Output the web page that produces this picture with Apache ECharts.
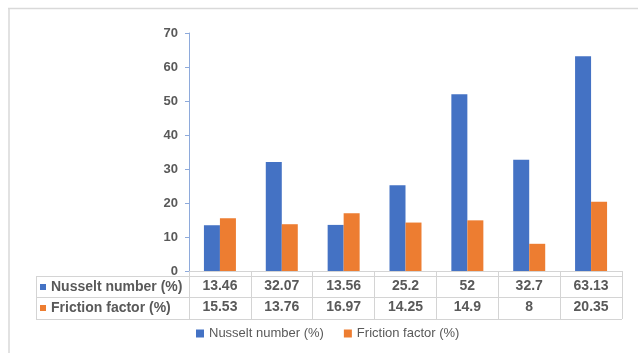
<!DOCTYPE html>
<html>
<head>
<meta charset="utf-8">
<script src="https://cdn.jsdelivr.net/npm/echarts@6/dist/echarts.min.js"></script>
<style>
html,body{margin:0;padding:0;background:#fff;}
#chart{width:638px;height:353px;}
</style>
</head>
<body>
<div id="chart"></div>
<script>
const categories = ['1', '2', '3', '4', '5', '6', '7'];
const nusselt = [13.46, 32.07, 13.56, 25.2, 52, 32.7, 63.13];
const friction = [15.53, 13.76, 16.97, 14.25, 14.9, 8, 20.35];
const seriesNames = ['Nusselt number (%)', 'Friction factor (%)'];
const colors = ['#4472c4', '#ed7d31'];
const yMin = 0, yMax = 70, yInterval = 10;

const FONT = '"Liberation Sans", Arial, sans-serif';
const TXT = '#595959';
const LINE = '#d4d4d4';

const chart = echarts.init(document.getElementById('chart'), null, {renderer: 'canvas'});

const graphics = [
  // outer frame
  {type: 'line', shape: {x1: 8, y1: 8.5, x2: 638, y2: 8.5}, style: {stroke: '#d9d9d9', lineWidth: 1.5}, silent: true},
  {type: 'line', shape: {x1: 9, y1: 8, x2: 9, y2: 353}, style: {stroke: '#d9d9d9', lineWidth: 1.5}, silent: true},
  // table horizontal lines
  {type: 'line', shape: {x1: 36, y1: 276.5, x2: 622, y2: 276.5}, style: {stroke: LINE, lineWidth: 1}, silent: true},
  {type: 'line', shape: {x1: 36, y1: 297.5, x2: 622, y2: 297.5}, style: {stroke: LINE, lineWidth: 1}, silent: true},
  {type: 'line', shape: {x1: 36, y1: 319.5, x2: 622, y2: 319.5}, style: {stroke: LINE, lineWidth: 1}, silent: true},
  {type: 'line', shape: {x1: 36.5, y1: 276, x2: 36.5, y2: 320}, style: {stroke: LINE, lineWidth: 1}, silent: true},
  // row headers
  {type: 'rect', shape: {x: 40, y: 284, width: 6, height: 6}, style: {fill: colors[0]}, silent: true},
  {type: 'text', x: 51, y: 287, style: {text: seriesNames[0], font: 'bold 14px ' + FONT, fill: TXT, textVerticalAlign: 'middle', verticalAlign: 'middle'}, silent: true},
  {type: 'rect', shape: {x: 40, y: 305, width: 6, height: 6}, style: {fill: colors[1]}, silent: true},
  {type: 'text', x: 51, y: 308, style: {text: seriesNames[1], font: 'bold 14px ' + FONT, fill: TXT, textVerticalAlign: 'middle', verticalAlign: 'middle'}, silent: true}
];

chart.setOption({
  animation: false,
  backgroundColor: '#fff',
  textStyle: {fontFamily: FONT},
  grid: {left: 189, right: 16, top: 33, bottom: 82, containLabel: false},
  legend: {
    data: seriesNames,
    left: 196,
    top: 327,
    padding: 0,
    icon: 'rect',
    itemWidth: 8,
    itemHeight: 8,
    itemGap: 20,
    textStyle: {fontSize: 13, color: TXT, fontFamily: FONT}
  },
  xAxis: {
    type: 'category',
    data: categories,
    axisLine: {show: true, lineStyle: {color: LINE, width: 1}},
    axisTick: {show: true, length: 48, lineStyle: {color: LINE, width: 1}},
    axisLabel: {
      margin: 5,
      interval: 0,
      formatter: function (value, index) {
        return '{v|' + nusselt[index] + '}\n{v|' + friction[index] + '}';
      },
      rich: {
        v: {fontSize: 14, fontWeight: 'bold', color: TXT, lineHeight: 21, fontFamily: FONT}
      }
    },
    splitLine: {show: false}
  },
  yAxis: {
    type: 'value',
    min: yMin,
    max: yMax,
    interval: yInterval,
    axisLine: {show: true, lineStyle: {color: '#8eaadb', width: 1}},
    axisTick: {show: true, length: 4, lineStyle: {color: '#8eaadb'}},
    axisLabel: {margin: 11, fontSize: 13, fontWeight: 'bold', color: TXT, fontFamily: FONT},
    splitLine: {show: false}
  },
  series: [
    {name: seriesNames[0], type: 'bar', data: nusselt, barWidth: 16, barGap: '0%', itemStyle: {color: colors[0]}},
    {name: seriesNames[1], type: 'bar', data: friction, barWidth: 16, barGap: '0%', itemStyle: {color: colors[1]}}
  ],
  graphic: graphics
});
</script>
</body>
</html>
